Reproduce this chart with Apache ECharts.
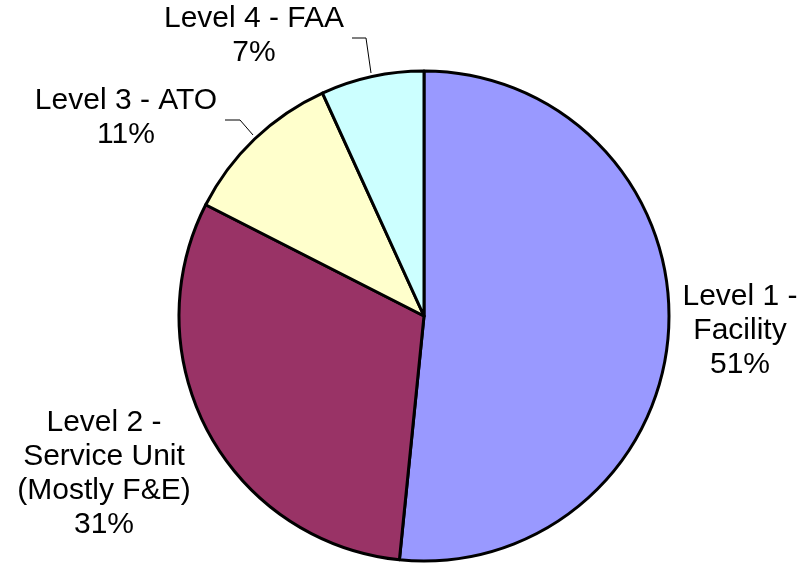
<!DOCTYPE html>
<html>
<head>
<meta charset="utf-8">
<script src="https://cdn.jsdelivr.net/npm/echarts@6/dist/echarts.min.js"></script>
<style>
  html, body { margin: 0; padding: 0; background: #fff; }
  #chart { width: 807px; height: 563px; }
</style>
</head>
<body>
<div id="chart"></div>
<script>
var names = ['Level 1 -\nFacility', 'Level 2 -\nService Unit\n(Mostly F&E)', 'Level 3 - ATO', 'Level 4 - FAA'];
var values = [51.6, 30.9, 10.7, 6.8];
var pctLabels = ['51%', '31%', '11%', '7%'];
var colors = ['#9999FF', '#993366', '#FFFFCC', '#CCFFFF'];

// where each label sits (Excel put them by hand)
var labelPos = [
    { x: 740, y: 331 },
    { x: 104, y: 474 },
    { x: 126, y: 118 },
    { x: 254, y: 36 }
];
var leaderLines = [
    null,
    null,
    [[225, 120], [240, 120], [253, 135]],
    [[352, 38], [366, 38], [371, 73]]
];

var chart = echarts.init(document.getElementById('chart'));

var data = values.map(function(v, i) {
    return {
        name: names[i],
        value: v,
        itemStyle: { color: colors[i] },
        labelLine: { show: leaderLines[i] != null }
    };
});

chart.setOption({
    animation: false,
    series: [{
        type: 'pie',
        center: [424, 316],
        radius: 245,
        startAngle: 90,
        clockwise: true,
        data: data,
        itemStyle: { borderColor: '#000', borderWidth: 3 },
        label: {
            show: true,
            position: 'outside',
            color: '#000',
            fontFamily: 'Liberation Sans, Arial, sans-serif',
            fontSize: 30,
            lineHeight: 34,
            align: 'center',
            overflow: 'none',
            formatter: function(p) {
                return p.name + '\n' + pctLabels[p.dataIndex];
            }
        },
        labelLine: {
            show: true,
            lineStyle: { color: '#000', width: 1 }
        },
        labelLayout: function(p) {
            var pos = labelPos[p.dataIndex];
            var out = {
                x: pos.x,
                y: pos.y,
                align: 'center',
                verticalAlign: 'middle'
            };
            if (leaderLines[p.dataIndex]) {
                out.labelLinePoints = leaderLines[p.dataIndex];
            }
            return out;
        }
    }]
});
</script>
</body>
</html>
